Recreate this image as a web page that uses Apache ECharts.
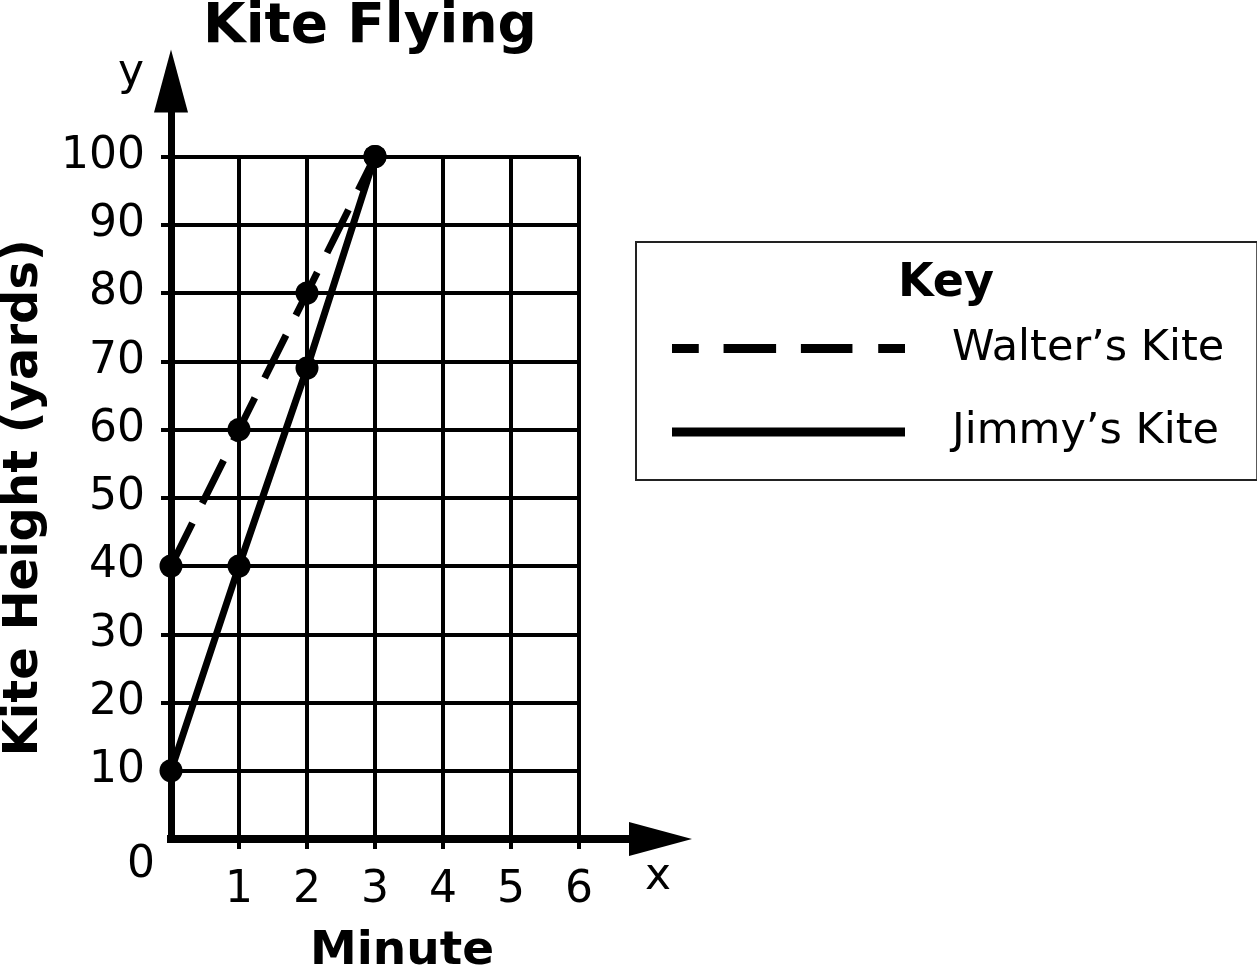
<!DOCTYPE html>
<html>
<head>
<meta charset="utf-8">
<script src="https://cdn.jsdelivr.net/npm/echarts@6/dist/echarts.min.js"></script>
<style>
  html, body { margin: 0; padding: 0; background: #fff; }
  #chart { width: 1257px; height: 972px; }
</style>
</head>
<body>
<div id="chart"></div>
<script>
// ---- data ----
const minutes = [0, 1, 2, 3];
const walterHeights = [40, 60, 80, 100];
const jimmyHeights = [10, 40, 69, 100];
const xTickLabels = [1, 2, 3, 4, 5, 6];
const yTickLabels = [10, 20, 30, 40, 50, 60, 70, 80, 90, 100];
const seriesNames = ["Walter\u2019s Kite", "Jimmy\u2019s Kite"];

const FONT = '"DejaVu Sans", Verdana, sans-serif';
const chart = echarts.init(document.getElementById('chart'), null, { renderer: 'canvas' });

function pairs(xs, ys) { return xs.map((x, i) => [x, ys[i]]); }

const dashIcon = 'path://M0,0H27V9H0Z M52,0H105V9H52Z M130,0H182V9H130Z M208,0H235V9H208Z';

function txt(text, x, y, font, align) {
  return {
    type: 'text', x: x, y: y, z: 10,
    style: {
      text: text, font: font, fill: '#000',
      align: align || 'center', textAlign: align || 'center',
      verticalAlign: 'middle', textVerticalAlign: 'middle'
    }
  };
}

const option = {
  backgroundColor: '#fff',
  animation: false,
  grid: [
    { left: 171, top: 156.5, right: 678, bottom: 133, containLabel: false },
    { left: 171, top: 81, right: 596.5, bottom: 133, containLabel: false }
  ],
  xAxis: [
    {
      type: 'value', gridIndex: 0, min: 0, max: 6, interval: 1,
      axisLine: { show: false },
      axisTick: { show: true, customValues: xTickLabels, length: 10, lineStyle: { color: '#000', width: 4 } },
      axisLabel: { show: true, customValues: xTickLabels, margin: 30, fontSize: 44, fontFamily: FONT, color: '#000', lineHeight: 44 },
      splitLine: { show: true, lineStyle: { color: '#000', width: 4 } }
    },
    {
      type: 'value', gridIndex: 1, min: 0, max: 1,
      axisLine: { show: true, symbol: ['none', 'triangle'], symbolSize: [34, 63], lineStyle: { color: '#000', width: 8, cap: 'square' } },
      axisTick: { show: false }, axisLabel: { show: false }, splitLine: { show: false }
    }
  ],
  yAxis: [
    {
      type: 'value', gridIndex: 0, min: 0, max: 100, interval: 10,
      name: 'Kite Height (yards)', nameLocation: 'middle', nameGap: 122,
      nameTextStyle: { fontSize: 48, fontWeight: 'bold', fontFamily: FONT, color: '#000' },
      axisLine: { show: false },
      axisTick: { show: true, customValues: yTickLabels, length: 10, lineStyle: { color: '#000', width: 4 } },
      axisLabel: { show: true, customValues: yTickLabels, margin: 26, fontSize: 44, fontFamily: FONT, color: '#000' },
      splitLine: { show: true, lineStyle: { color: '#000', width: 4 } }
    },
    {
      type: 'value', gridIndex: 1, min: 0, max: 1,
      axisLine: { show: true, symbol: ['none', 'triangle'], symbolSize: [34, 63], lineStyle: { color: '#000', width: 7, cap: 'square' } },
      axisTick: { show: false }, axisLabel: { show: false }, splitLine: { show: false }
    }
  ],
  legend: {
    orient: 'vertical', left: 636, top: 242,
    padding: [85, 33, 26.5, 36],
    itemWidth: 233, itemHeight: 9, itemGap: 40.5,
    borderColor: '#222', borderWidth: 2,
    selectedMode: false,
    textStyle: { fontSize: 43, fontFamily: FONT, color: '#000', lineHeight: 40, padding: [0, 0, 0, 42] },
    data: [
      { name: seriesNames[0], icon: dashIcon },
      { name: seriesNames[1], icon: 'rect' }
    ]
  },
  graphic: [
    txt('Kite Flying', 370, 28, 'bold 55px ' + FONT),
    txt('Key', 946, 284, 'bold 46px ' + FONT),
    txt('Minute', 402, 952, 'bold 47px ' + FONT),
    txt('y', 131, 74, '44px ' + FONT),
    txt('x', 658, 878, '44px ' + FONT),
    txt('0', 141, 866, '44px ' + FONT)
  ],
  series: [
    {
      name: seriesNames[0], type: 'line', xAxisIndex: 0, yAxisIndex: 0,
      data: pairs(minutes, walterHeights),
      color: '#000', clip: false, z: 5,
      symbol: 'circle', symbolSize: 23, showAllSymbol: true,
      lineStyle: { color: '#000', width: 7, type: [48, 22] },
      itemStyle: { color: '#000', borderWidth: 0 }
    },
    {
      name: seriesNames[1], type: 'line', xAxisIndex: 0, yAxisIndex: 0,
      data: pairs(minutes, jimmyHeights),
      color: '#000', clip: false, z: 5,
      symbol: 'circle', symbolSize: 23, showAllSymbol: true,
      lineStyle: { color: '#000', width: 7, type: 'solid' },
      itemStyle: { color: '#000', borderWidth: 0 }
    }
  ]
};
chart.setOption(option);
</script>
</body>
</html>
